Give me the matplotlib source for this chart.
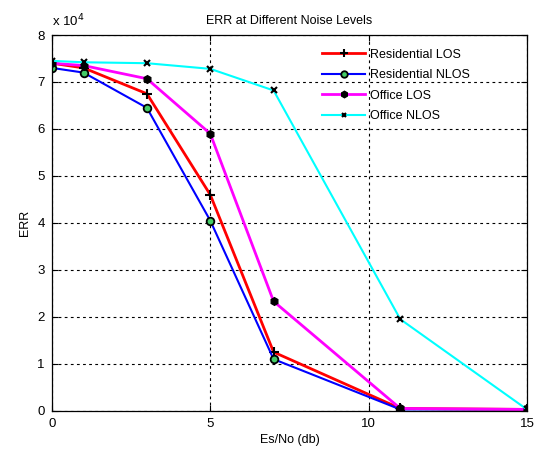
import matplotlib
matplotlib.use("Agg")
import matplotlib.pyplot as plt
from matplotlib.ticker import FuncFormatter, MultipleLocator

plt.rcParams['font.family'] = ['Liberation Sans', 'DejaVu Sans']

snr = [0, 1, 3, 5, 7, 11, 15]
res_los = [74000, 73000, 67500, 46000, 12500, 500, 300]
res_nlos = [73000, 72000, 64500, 40500, 11000, 300, 300]
off_los = [74000, 73500, 70700, 59000, 23300, 500, 300]
off_nlos = [74500, 74200, 74000, 72800, 68200, 19500, 300]

fig = plt.figure(figsize=(5.35, 4.49), dpi=100)
ax = fig.add_axes([0.097, 0.085, 0.888, 0.837])

ax.plot(snr, res_los, color="red", lw=2, marker="+", mec="black", mfc="black", ms=7, mew=1.5, label="Residential LOS")
ax.plot(snr, res_nlos, color="blue", lw=1.5, marker="o", mec="black", mfc="#44cc66", ms=5.5, mew=1.3, label="Residential NLOS")
ax.plot(snr, off_los, color="magenta", lw=2, marker="h", mec="black", mfc="black", ms=5.5, label="Office LOS")
ax.plot(snr, off_nlos, color="cyan", lw=1.5, marker="x", mec="black", mfc="black", ms=4, mew=1.5, label="Office NLOS")

ax.set_xlim(0, 15)
ax.set_ylim(0, 80000)
ax.xaxis.set_major_locator(MultipleLocator(5))
ax.yaxis.set_major_locator(MultipleLocator(10000))
ax.yaxis.set_major_formatter(FuncFormatter(lambda v, p: f"{v/1e4:g}"))
ax.tick_params(direction="in", labelsize=9.5, length=4, top=True, right=True, pad=5)
ax.grid(True, color="black", linestyle=(0, (2.5, 3)), linewidth=0.8)
for s in ax.spines.values():
    s.set_linewidth(0.9)

ax.set_title("ERR at Different Noise Levels", fontsize=9, pad=8)
ax.set_xlabel("Es/No (db)", fontsize=9, labelpad=3)
ax.set_ylabel("ERR", fontsize=9, labelpad=5)
ax.text(0.0, 1.015, r"x 10$^{4}$", transform=ax.transAxes, fontsize=9.5, va="bottom", ha="left")

leg = ax.legend(loc="upper left", bbox_to_anchor=(0.568, 0.964), fontsize=9, frameon=False,
                borderpad=0, borderaxespad=0, handlelength=3.5, handletextpad=0.4, labelspacing=0.68,
                markerscale=0.85)

fig.savefig("out.png", dpi=100)
